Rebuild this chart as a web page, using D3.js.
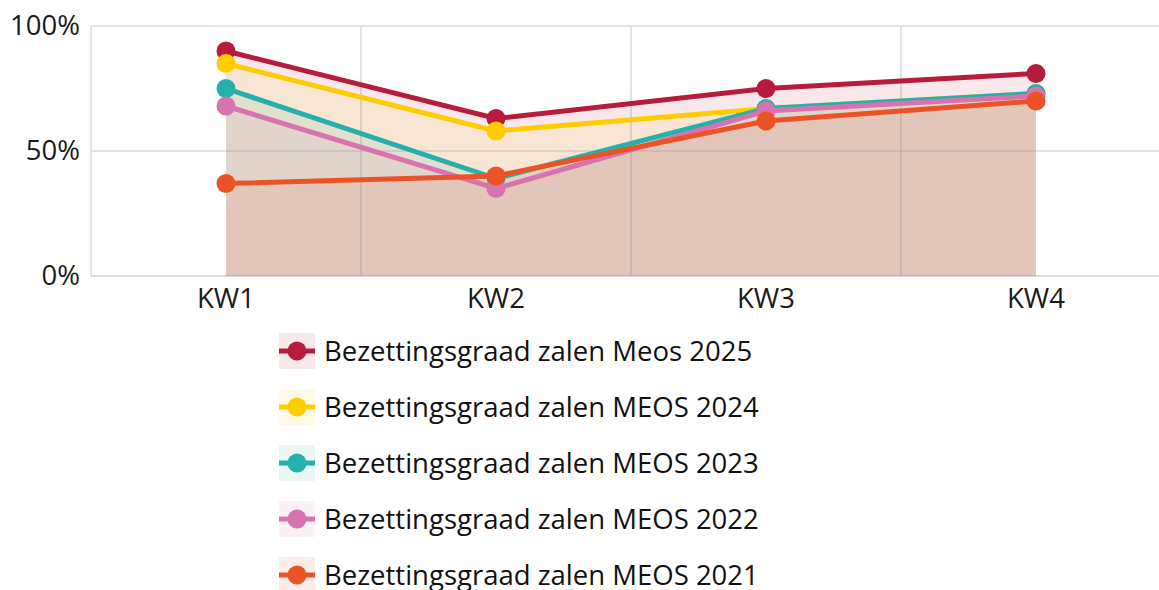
<!DOCTYPE html>
<html><head><meta charset="utf-8">
<script src="https://cdn.jsdelivr.net/npm/d3@7"></script>
<style>body{margin:0;background:#fff;} text{font-family:"Open Sans","Noto Sans",sans-serif;}</style>
</head><body>
<svg id="c" width="1159" height="590"></svg>
<script>
const categories = ["KW1","KW2","KW3","KW4"];
const seriesNames = ["Bezettingsgraad zalen Meos 2025","Bezettingsgraad zalen MEOS 2024","Bezettingsgraad zalen MEOS 2023","Bezettingsgraad zalen MEOS 2022","Bezettingsgraad zalen MEOS 2021"];
const s2025 = [90, 63, 75, 81];
const s2024 = [85, 58, 67, 73];
const s2023 = [75, 39, 67, 73];
const s2022 = [68, 35, 66, 72];
const s2021 = [37, 40, 62, 70];
const colors = ["#B71C3C","#FFCC00","#24B1AC","#D973AF","#EB5327"];
const yTicks = [0, 50, 100];

const seriesValues = [s2025, s2024, s2023, s2022, s2021];
const svg = d3.select("#c");
const mLeft = 91, mTop = 26, mBottom = 276, mRight = 1171;
const x = d3.scaleBand().domain(categories).range([mLeft, mRight]).padding(0);
const y = d3.scaleLinear().domain([0, 100]).range([mBottom, mTop]);
const cx = d => x(d) + x.bandwidth()/2;
const FONT = '"Open Sans","Noto Sans",sans-serif';

// grid
svg.append("g").selectAll("line").data(yTicks).join("line")
  .attr("x1", mLeft).attr("x2", 1159).attr("y1", d => y(d)).attr("y2", d => y(d))
  .attr("stroke", d => d === 0 ? "#d5dbe3" : "#c6ced8").attr("stroke-width", d=> d===0?2:1);
svg.append("g").selectAll("line").data(categories.slice(1)).join("line")
  .attr("x1", d => x(d)).attr("x2", d => x(d)).attr("y1", mTop).attr("y2", mBottom)
  .attr("stroke", "#bfc6ce").attr("stroke-width", 1);
svg.append("line").attr("x1", mLeft).attr("x2", mLeft).attr("y1", mTop).attr("y2", mBottom)
  .attr("stroke", "#c6ced8");

// y axis labels
const yAxis = d3.axisLeft(y).tickValues(yTicks).tickFormat(d => d + "%").tickSize(0).tickPadding(11);
const ya = svg.append("g").attr("transform", `translate(${mLeft},0)`).call(yAxis);
ya.select(".domain").remove();
ya.selectAll("text").attr("font-size", 27.5).attr("fill", "#1a1a1a").style("font-family", FONT);

// x axis labels
const xAxis = d3.axisBottom(x).tickSize(0).tickPadding(12);
const xa = svg.append("g").attr("transform", `translate(0,${mBottom})`).call(xAxis);
xa.select(".domain").remove();
xa.selectAll("text").attr("font-size", 27.5).attr("fill", "#1a1a1a").style("font-family", FONT);

const area = d3.area().x((d,i) => cx(categories[i])).y0(y(0)).y1(d => y(d));
const line = d3.line().x((d,i) => cx(categories[i])).y(d => y(d));

seriesValues.forEach((vals, k) => {
  svg.append("path").attr("d", area(vals)).attr("fill", colors[k]).attr("fill-opacity", 0.1);
});
seriesValues.forEach((vals, k) => {
  svg.append("path").attr("d", line(vals)).attr("fill", "none").attr("stroke", colors[k]).attr("stroke-width", 5);
  svg.append("g").selectAll("circle").data(vals).join("circle")
    .attr("cx", (d,i) => cx(categories[i])).attr("cy", d => y(d)).attr("r", 9.5).attr("fill", colors[k]);
});

// legend
const lg = svg.append("g");
seriesNames.forEach((name, k) => {
  const cy = 351 + k*56;
  lg.append("rect").attr("x", 279).attr("y", cy-18).attr("width", 36).attr("height", 36)
    .attr("fill", colors[k]).attr("fill-opacity", 0.1);
  lg.append("line").attr("x1", 279).attr("x2", 315).attr("y1", cy).attr("y2", cy)
    .attr("stroke", colors[k]).attr("stroke-width", 5);
  lg.append("circle").attr("cx", 297).attr("cy", cy).attr("r", 9.5).attr("fill", colors[k]);
  lg.append("text").attr("x", 324).attr("y", cy + 9.5).attr("font-size", 27.5).attr("fill", "#111").text(name);
});
</script>
</body></html>
